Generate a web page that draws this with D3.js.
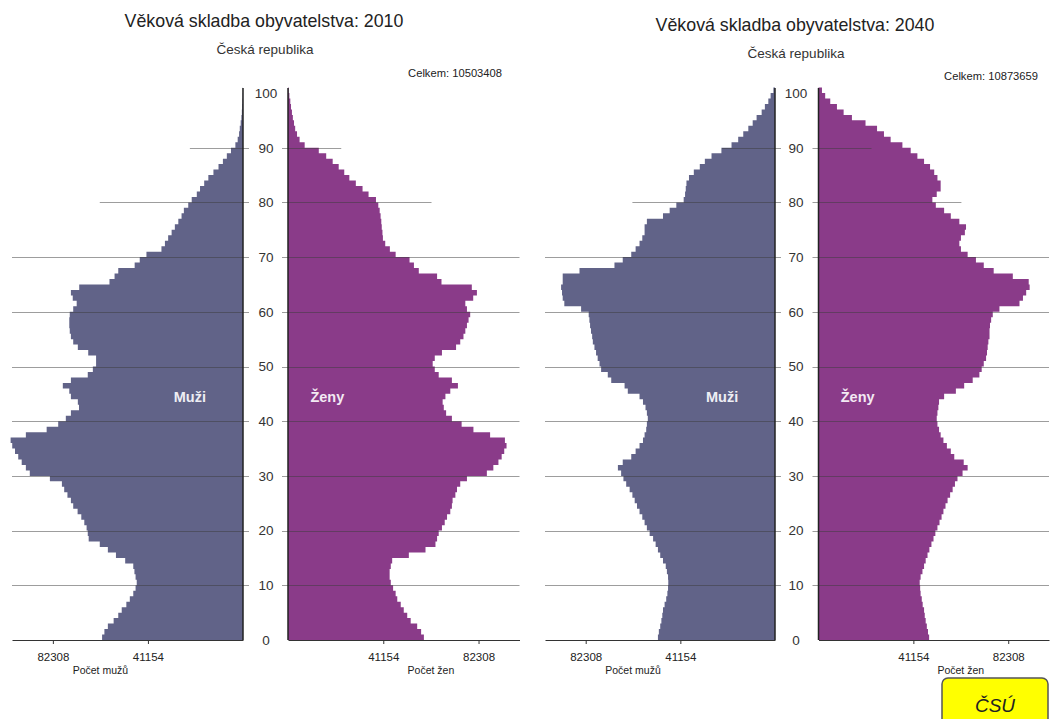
<!DOCTYPE html>
<html><head><meta charset="utf-8">
<script src="https://cdn.jsdelivr.net/npm/d3@7"></script>
<style>
body{margin:0;background:#fff;}
svg{display:block;font-family:"Liberation Sans",Arial,Helvetica,sans-serif;}
</style>
</head><body>
<svg id="c" width="1051" height="719"></svg>
<script>
// ---------- DATA ----------
const ages = d3.range(0, 101); // single years 0..100
const ageTicks = [0, 10, 20, 30, 40, 50, 60, 70, 80, 90, 100];
const valueTicks = [41154, 82308];
// how far (in persons) each decade gridline reaches
const gridReach = [0, 100000, 100000, 100000, 100000, 100000, 100000, 100000, 62000, 23000, 0];

const years = ["2010", "2040"];
const totals = ["10503408", "10873659"];

const male2010 = [61000,60000,58500,56000,54000,52500,50500,49000,47500,46500,
46000,46500,47000,47500,51000,55000,58500,62000,66800,67200,
67700,68700,70000,71600,73500,74500,76000,77400,78400,83600,
92300,94000,95800,97300,98700,99900,100600,94000,85000,80000,
76700,74500,71000,71500,74500,75200,78000,74500,67200,65000,
63600,63600,67000,71500,73500,74500,75000,75200,75200,75000,
73500,72000,73700,74500,70900,57800,55600,54000,46900,44700,
41800,35300,33800,32400,30900,29500,28000,26600,25600,23700,
22200,20000,18600,16800,15000,12800,10600,8700,7000,5200,
3300,2300,1700,1400,1000,700,500,350,250,150,100];

const female2010 = [58700,57500,55800,53000,51500,50000,48700,47200,46500,45400,
44400,43900,43900,44400,45000,52200,59400,63700,64400,65100,
66500,67700,68700,70100,70800,71100,72300,73000,74400,77300,
85900,88700,90900,92300,93400,94400,93700,87300,80100,75000,
70800,68300,67300,66800,68000,70100,73400,70800,65100,63400,
62500,63400,66500,72600,74400,75800,76600,77300,78000,78700,
77300,76600,80000,81600,79400,66300,64400,56500,54400,52500,
46500,44000,42000,41000,40800,40500,40300,40000,39600,39000,
38000,34800,32200,29300,26500,24300,21900,19300,16500,13300,
7200,5000,3900,3100,2600,2100,1700,1300,1000,600,300];

const male2040 = [50900,50500,49900,49400,49000,48700,48000,47300,46800,46500,
46400,46500,47000,47500,48700,49900,50900,51900,53000,54500,
55700,56700,57700,58900,60000,61000,62000,63200,64700,65900,
66900,68300,66200,62500,60600,58900,57400,56700,56000,55700,
55300,55700,56300,57400,58900,64000,65400,71200,72700,75600,
76300,77100,77800,78500,79200,79500,80000,80400,80700,81000,
84300,91600,92300,92600,93000,92300,92300,85000,69800,66200,
62500,60600,58900,57700,56700,56700,55700,48700,45800,42900,
39700,39100,38800,38500,37400,35300,32700,30500,27600,23300,
18900,16000,13800,11600,9700,8000,5800,4400,2900,1900,700];

const female2040 = [48000,47500,47000,46500,46100,45800,45200,44800,44300,44100,
43900,44300,45100,45800,46500,47300,48100,49000,49900,50700,
51600,52500,53400,54200,55100,56000,57100,58200,59200,60300,
62500,64700,63000,58900,57400,55700,54200,53000,52300,51600,
51300,51600,52000,52300,54500,59600,63200,66900,69800,70800,
71700,72700,73100,73400,73700,74200,74200,74400,74900,75600,
78500,87200,88700,90100,91600,91200,84300,76000,71700,68300,
64700,61800,61100,61800,63500,64000,61100,57400,54500,50900,
49400,51300,53000,53000,51600,50200,48400,45800,42900,40000,
36400,31300,28400,25400,20400,14500,10900,8000,5100,2900,1500];

const maleSeries = [male2010, male2040];
const femaleSeries = [female2010, female2040];

// ---------- LAYOUT ----------
const MALE_COL = "#616388", FEMALE_COL = "#8a3b89";
const panels = [
  {maleRange:[243, 12],  femaleRange:[288, 519.5], ageX:266, titleX:264, titleY:27, subY:54, totalX:502, totalY:77},
  {maleRange:[775, 545], femaleRange:[818.5, 1049], ageX:796, titleX:795, titleY:31, subY:58, totalX:1038, totalY:80}
];

const svg = d3.select("#c");
const y = d3.scaleLinear().domain([0, 100]).range([640, 93]);
// step edges: value of age k holds from k to k+1
const edges = d3.range(0, ages.length + 1);

panels.forEach((p, i) => {
  const g = svg.append("g");
  const xm = d3.scaleLinear().domain([0, 100000]).range(p.maleRange);
  const xf = d3.scaleLinear().domain([0, 100000]).range(p.femaleRange);
  const males = maleSeries[i], females = femaleSeries[i];
  const val = (arr, k) => arr[Math.min(k, arr.length - 1)];

  // titles
  g.append("text").attr("x", p.titleX).attr("y", p.titleY).attr("text-anchor", "middle")
    .attr("font-size", 17.8).attr("fill", "#222").text("Věková skladba obyvatelstva: " + years[i]);
  g.append("text").attr("x", p.titleX + 1).attr("y", p.subY).attr("text-anchor", "middle")
    .attr("font-size", 13.5).attr("fill", "#333").text("Česká republika");
  g.append("text").attr("x", p.totalX).attr("y", p.totalY).attr("text-anchor", "end")
    .attr("font-size", 11.2).attr("fill", "#222").text("Celkem: " + totals[i]);

  // bars as stepped areas (one step per age)
  const maleArea = d3.area().curve(d3.curveStepBefore)
    .y(k => y(k)).x0(xm(0)).x1(k => xm(val(males, k)));
  const femaleArea = d3.area().curve(d3.curveStepBefore)
    .y(k => y(k)).x0(xf(0)).x1(k => xf(val(females, k)));
  g.append("path").datum(edges).attr("d", maleArea).attr("fill", MALE_COL);
  g.append("path").datum(edges).attr("d", femaleArea).attr("fill", FEMALE_COL);

  // gridlines (over bars)
  const grid = g.append("g").attr("stroke", "rgba(60,60,60,0.5)").attr("stroke-width", 1);
  ageTicks.forEach((t, k) => {
    if (t === 0 || gridReach[k] === 0) return;
    const yy = Math.round(y(t)) + 0.5;
    grid.append("line").attr("x1", xm(gridReach[k])).attr("x2", xm(0) + 6).attr("y1", yy).attr("y2", yy);
    grid.append("line").attr("x1", xf(0) - 6).attr("x2", xf(gridReach[k])).attr("y1", yy).attr("y2", yy);
  });

  // vertical axis lines
  g.append("line").attr("x1", xm(0)).attr("x2", xm(0)).attr("y1", y(100) - 5).attr("y2", y(0))
    .attr("stroke", "#222").attr("stroke-width", 1.5);
  g.append("line").attr("x1", xf(0)).attr("x2", xf(0)).attr("y1", y(100) - 5).attr("y2", y(0))
    .attr("stroke", "#222").attr("stroke-width", 1.5);

  // age labels
  g.append("g").selectAll("text").data(ageTicks).join("text")
    .attr("x", p.ageX).attr("y", t => y(t)).attr("dy", "0.36em")
    .attr("text-anchor", "middle").attr("font-size", 13.5).attr("fill", "#333")
    .text(t => t);

  // bottom value axes
  const fmt = d => String(d);
  [xm, xf].forEach(sc => {
    const ax = g.append("g").attr("transform", `translate(0,${y(0)})`)
      .call(d3.axisBottom(sc).tickValues(valueTicks).tickFormat(fmt).tickSize(4).tickSizeOuter(0).tickPadding(9));
    ax.select(".domain").attr("stroke", "#333").attr("stroke-width", 1.2);
    ax.selectAll(".tick line").attr("stroke", "#333");
    ax.selectAll(".tick text").attr("font-size", 11.5).attr("fill", "#222")
      .attr("font-family", '"Liberation Sans",Arial,sans-serif');
  });
  const mid = (valueTicks[0] + valueTicks[1]) / 2;
  g.append("text").attr("x", xm(mid)).attr("y", 674).attr("text-anchor", "middle")
    .attr("font-size", 10.5).attr("fill", "#222").text("Počet mužů");
  g.append("text").attr("x", xf(mid)).attr("y", 674).attr("text-anchor", "middle")
    .attr("font-size", 10.5).attr("fill", "#222").text("Počet žen");

  // in-bar labels
  g.append("text").attr("x", xm(23000)).attr("y", y(44.5)).attr("dy", "0.36em")
    .attr("text-anchor", "middle").attr("font-size", 14.5).attr("font-weight", "bold")
    .attr("fill", "#eeeef4").text("Muži");
  g.append("text").attr("x", xf(17000)).attr("y", y(44.5)).attr("dy", "0.36em")
    .attr("text-anchor", "middle").attr("font-size", 14.5).attr("font-weight", "bold")
    .attr("fill", "#f3e9f3").text("Ženy");
});

// ČSÚ badge
const badge = svg.append("g");
badge.append("rect").attr("x", 942).attr("y", 678).attr("width", 106).attr("height", 50)
  .attr("rx", 6).attr("fill", "#ffff00").attr("stroke", "#555").attr("stroke-width", 1.5);
badge.append("text").attr("x", 995).attr("y", 712).attr("text-anchor", "middle")
  .attr("font-size", 19).attr("font-style", "italic").attr("fill", "#222").text("ČSÚ");
</script>
</body></html>
